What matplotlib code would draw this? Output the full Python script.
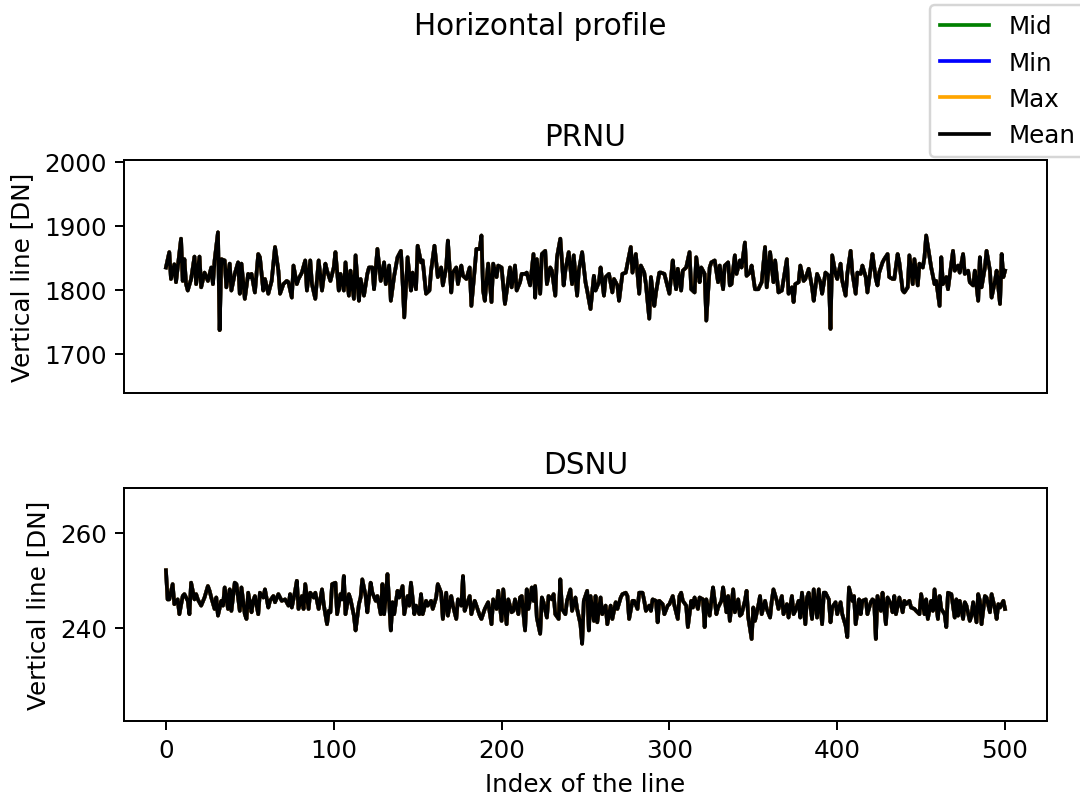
import matplotlib
matplotlib.use('Agg')
import matplotlib.pyplot as plt

# values (index of the line, DN)
prnu_idx = [0, 2, 3, 5, 6, 9, 10, 11, 12, 13, 15, 17, 18, 20, 21, 23, 25, 27, 28, 29, 31, 32, 33, 35, 36, 38, 39, 41, 43, 44,
            45, 47, 49, 50, 51, 53, 55, 56, 58, 59, 61, 63, 65, 67, 68, 70, 72, 73, 75, 76, 78, 79, 81, 83, 84, 86, 87, 89, 91, 93,
            95, 96, 98, 100, 101, 103, 104, 106, 107, 109, 110, 112, 113, 115, 116, 118, 120, 121, 123, 124, 126, 128, 130, 131, 133, 134, 136, 138, 140, 141,
            142, 144, 146, 147, 149, 150, 152, 153, 155, 157, 158, 160, 162, 164, 165, 167, 168, 170, 171, 173, 174, 176, 177, 179, 181, 182, 184, 185, 187, 188,
            189, 190, 192, 194, 195, 197, 198, 200, 202, 205, 206, 208, 209, 211, 212, 214, 215, 217, 219, 220, 221, 223, 224, 226, 227, 229, 230, 232, 233, 235,
            237, 238, 240, 242, 243, 245, 246, 248, 250, 251, 253, 255, 256, 258, 259, 261, 262, 264, 266, 267, 269, 270, 272, 274, 275, 277, 278, 280, 282, 283,
            285, 286, 288, 289, 291, 292, 294, 295, 297, 299, 300, 302, 303, 304, 305, 307, 308, 310, 312, 313, 315, 316, 318, 319, 321, 322, 324, 325, 327, 329,
            330, 332, 333, 335, 336, 337, 339, 340, 342, 343, 345, 346, 348, 349, 351, 353, 355, 357, 358, 360, 362, 363, 365, 367, 370, 371, 373, 374, 375, 377,
            378, 380, 381, 383, 385, 386, 388, 390, 391, 393, 395, 396, 397, 399, 400, 402, 403, 405, 406, 408, 409, 411, 412, 414, 415, 417, 418, 420, 421, 423,
            424, 425, 427, 428, 430, 431, 433, 434, 436, 437, 439, 440, 442, 443, 445, 446, 448, 449, 451, 452, 453, 455, 456, 458, 459, 461, 462, 463, 465, 466,
            468, 469, 470, 472, 473, 475, 476, 478, 479, 481, 482, 484, 485, 486, 488, 489, 491, 492, 494, 495, 497, 498, 499, 500]
prnu_val = [1835, 1859, 1817, 1840, 1812, 1880, 1814, 1848, 1809, 1799, 1817, 1852, 1809, 1852, 1804, 1827, 1814, 1835, 1809, 1846, 1890, 1737, 1848, 1846, 1804, 1841, 1799, 1825, 1843, 1794,
            1841, 1786, 1825, 1820, 1825, 1796, 1856, 1851, 1799, 1817, 1794, 1814, 1867, 1830, 1794, 1809, 1814, 1812, 1788, 1838, 1809, 1817, 1827, 1846, 1799, 1846, 1809, 1786, 1846, 1799,
            1841, 1830, 1814, 1835, 1859, 1799, 1825, 1799, 1843, 1791, 1830, 1786, 1854, 1783, 1817, 1791, 1825, 1835, 1835, 1801, 1864, 1814, 1843, 1809, 1838, 1783, 1822, 1851, 1861, 1814,
            1757, 1851, 1799, 1827, 1801, 1869, 1843, 1846, 1794, 1799, 1830, 1869, 1820, 1835, 1807, 1835, 1877, 1796, 1827, 1835, 1809, 1838, 1822, 1817, 1835, 1775, 1833, 1864, 1864, 1885,
            1799, 1783, 1841, 1781, 1841, 1820, 1838, 1835, 1778, 1835, 1804, 1838, 1799, 1812, 1825, 1825, 1827, 1807, 1856, 1788, 1848, 1794, 1856, 1861, 1809, 1835, 1830, 1791, 1851, 1880,
            1807, 1830, 1859, 1809, 1854, 1791, 1830, 1859, 1812, 1799, 1770, 1822, 1799, 1812, 1835, 1791, 1820, 1825, 1796, 1817, 1807, 1783, 1825, 1827, 1841, 1867, 1827, 1856, 1794, 1838,
            1827, 1809, 1755, 1820, 1775, 1796, 1827, 1827, 1825, 1804, 1794, 1846, 1820, 1801, 1833, 1799, 1830, 1835, 1859, 1801, 1796, 1851, 1812, 1835, 1825, 1752, 1835, 1843, 1846, 1812,
            1838, 1801, 1838, 1843, 1807, 1809, 1854, 1825, 1846, 1835, 1874, 1822, 1827, 1838, 1801, 1801, 1812, 1867, 1804, 1859, 1812, 1846, 1796, 1799, 1848, 1794, 1804, 1781, 1809, 1812,
            1838, 1814, 1817, 1833, 1804, 1783, 1825, 1812, 1794, 1827, 1822, 1739, 1854, 1825, 1817, 1841, 1814, 1791, 1825, 1861, 1827, 1794, 1827, 1825, 1838, 1820, 1796, 1835, 1856, 1817,
            1807, 1827, 1843, 1848, 1856, 1820, 1817, 1817, 1856, 1843, 1799, 1796, 1804, 1854, 1809, 1848, 1807, 1841, 1835, 1851, 1885, 1851, 1835, 1809, 1814, 1775, 1851, 1809, 1820, 1801,
            1841, 1861, 1830, 1838, 1827, 1856, 1825, 1830, 1812, 1807, 1830, 1783, 1851, 1804, 1835, 1861, 1830, 1788, 1814, 1830, 1778, 1856, 1820, 1830]

dsnu_idx = [0, 1, 2, 4, 5, 7, 8, 10, 11, 13, 14, 15, 17, 18, 19, 21, 23, 25, 26, 27, 29, 30, 31, 33, 34, 35, 37, 38, 39, 41,
            42, 44, 45, 47, 48, 49, 51, 52, 53, 55, 56, 58, 59, 61, 62, 64, 65, 67, 68, 69, 71, 73, 74, 75, 77, 78, 79, 81, 82, 83,
            85, 86, 88, 89, 91, 93, 94, 95, 96, 97, 98, 99, 101, 102, 104, 105, 106, 107, 109, 110, 112, 113, 115, 116, 117, 119, 120, 122, 123, 125,
            126, 128, 129, 130, 131, 132, 134, 135, 136, 138, 139, 141, 142, 144, 145, 146, 148, 149, 151, 152, 153, 155, 156, 158, 159, 161, 162, 164, 165, 167,
            168, 170, 171, 173, 174, 176, 177, 178, 179, 181, 182, 184, 185, 187, 188, 190, 191, 192, 194, 195, 197, 198, 200, 201, 203, 204, 206, 207, 208, 210,
            211, 212, 214, 215, 216, 218, 219, 220, 221, 223, 224, 225, 227, 228, 230, 231, 232, 234, 235, 236, 238, 239, 241, 242, 244, 245, 247, 248, 249, 251,
            252, 253, 255, 256, 257, 259, 260, 262, 263, 265, 266, 268, 269, 271, 272, 274, 275, 276, 278, 279, 281, 282, 284, 285, 286, 288, 289, 290, 292, 293,
            294, 296, 297, 299, 300, 302, 303, 305, 306, 307, 308, 310, 311, 313, 314, 315, 317, 318, 320, 321, 322, 324, 325, 326, 328, 329, 331, 332, 334, 335,
            336, 338, 339, 341, 342, 343, 345, 346, 347, 349, 350, 351, 353, 354, 355, 357, 358, 360, 361, 362, 364, 365, 367, 368, 370, 371, 373, 374, 375, 377,
            378, 379, 381, 382, 383, 385, 386, 388, 389, 391, 392, 393, 395, 396, 397, 399, 400, 402, 403, 405, 406, 407, 409, 410, 411, 413, 414, 415, 417, 418,
            420, 421, 422, 423, 424, 426, 427, 429, 430, 432, 433, 434, 435, 437, 439, 440, 441, 443, 444, 446, 447, 449, 450, 452, 453, 454, 456, 457, 458, 460,
            461, 462, 464, 465, 466, 468, 470, 471, 472, 473, 475, 476, 477, 479, 480, 481, 483, 484, 485, 486, 488, 489, 491, 492, 494, 495, 496, 497, 499, 500]
dsnu_val = [252.1, 246.0, 246.0, 249.2, 245.0, 246.0, 242.9, 246.7, 247.1, 245.7, 242.9, 249.5, 246.0, 247.1, 246.0, 244.7, 246.4, 248.8, 247.8, 246.4, 244.0, 246.4, 242.6, 245.7, 244.7, 248.5, 244.0, 248.1, 243.6, 249.5,
            249.2, 243.6, 248.5, 242.9, 241.9, 247.4, 243.3, 245.7, 246.7, 242.9, 247.4, 246.4, 248.1, 244.3, 245.7, 246.7, 245.4, 247.1, 246.4, 245.7, 246.0, 244.7, 247.1, 244.3, 247.8, 249.9, 244.0, 246.7, 244.0, 249.2,
            244.0, 247.4, 246.4, 247.4, 244.0, 248.1, 245.0, 242.9, 240.8, 243.6, 243.3, 249.2, 249.5, 242.9, 247.1, 246.0, 250.9, 242.9, 247.1, 246.0, 242.6, 239.5, 245.0, 246.4, 250.2, 246.7, 243.3, 249.5, 247.4, 245.7,
            246.7, 242.9, 249.2, 242.9, 246.7, 251.3, 239.5, 245.4, 242.9, 247.8, 246.4, 248.8, 242.9, 246.7, 244.7, 249.5, 242.9, 244.7, 242.9, 247.1, 242.9, 245.7, 244.7, 245.7, 244.0, 246.4, 249.2, 247.4, 241.9, 247.4,
            242.6, 246.7, 244.7, 241.9, 246.0, 244.7, 250.9, 243.6, 244.7, 246.7, 242.9, 245.7, 244.7, 242.6, 241.9, 244.0, 244.7, 245.4, 240.8, 246.0, 244.0, 247.8, 241.5, 248.1, 240.8, 246.0, 243.3, 243.6, 246.0, 242.9,
            246.4, 246.7, 239.5, 248.1, 244.0, 248.5, 245.7, 248.8, 242.2, 238.8, 246.4, 245.4, 242.2, 246.7, 246.0, 247.1, 242.9, 241.9, 250.2, 244.0, 242.9, 245.7, 248.1, 243.6, 246.4, 244.0, 240.8, 236.7, 245.7, 247.8,
            239.5, 246.7, 241.5, 246.7, 241.2, 246.4, 242.9, 244.7, 240.8, 244.7, 241.9, 245.4, 244.0, 246.4, 247.1, 247.4, 246.7, 241.9, 245.7, 245.7, 244.0, 247.4, 247.4, 245.7, 243.6, 244.7, 243.6, 246.0, 245.7, 241.2,
            245.7, 245.0, 242.9, 244.7, 245.0, 246.7, 244.7, 241.9, 246.7, 247.4, 245.7, 244.7, 240.2, 245.7, 244.3, 246.4, 244.0, 246.4, 246.0, 240.2, 246.0, 242.6, 245.7, 248.5, 242.9, 244.3, 245.7, 248.5, 243.3, 246.7,
            241.5, 248.1, 243.3, 246.0, 242.6, 242.9, 245.7, 247.8, 242.2, 237.7, 244.3, 241.5, 244.7, 246.7, 242.9, 245.7, 244.0, 242.2, 245.7, 248.1, 245.7, 244.0, 246.7, 242.9, 245.0, 242.2, 246.7, 242.9, 243.6, 245.7,
            242.2, 247.4, 240.8, 246.4, 247.4, 241.9, 248.1, 242.2, 248.1, 240.8, 247.4, 247.4, 246.0, 241.2, 244.3, 245.4, 242.9, 245.4, 242.9, 240.5, 238.1, 248.5, 245.7, 246.7, 240.8, 246.0, 242.9, 245.7, 246.0, 242.9,
            245.4, 246.0, 245.7, 237.7, 246.7, 243.6, 247.4, 240.8, 246.4, 245.0, 243.3, 246.7, 242.9, 246.4, 243.3, 245.7, 245.0, 245.7, 244.3, 244.0, 243.6, 242.9, 247.1, 242.9, 246.0, 241.9, 245.7, 243.6, 248.1, 241.9,
            246.7, 244.0, 242.9, 240.2, 247.4, 247.1, 242.2, 246.0, 242.6, 245.7, 241.9, 245.4, 244.7, 241.5, 242.6, 245.4, 241.2, 247.1, 245.7, 240.8, 246.7, 246.4, 243.3, 247.1, 244.0, 241.9, 245.0, 244.3, 245.7, 244.0]

fig, axes = plt.subplots(2, 1, sharex=True, figsize=(6.107, 4.525), dpi=177)
fig.subplots_adjust(left=0.1147, right=0.9686, top=0.799, bottom=0.0986, hspace=0.41)

for ax, idx, val, name in [(axes[0], prnu_idx, prnu_val, 'PRNU'), (axes[1], dsnu_idx, dsnu_val, 'DSNU')]:
    ax.plot(idx, val, c='green', label='Mid')
    ax.plot(idx, val, c='blue', label='Min')
    ax.plot(idx, val, c='orange', label='Max')
    ax.plot(idx, val, c='black', label='Mean')
    ax.set_title(name)
    ax.set_ylabel('Vertical line [DN]')

axes[0].set_ylim(1639, 2003)
axes[0].set_yticks([1700, 1800, 1900, 2000])
axes[0].tick_params(axis='x', bottom=False, labelbottom=False)
axes[1].set_ylim(220.5, 269.3)
axes[1].set_yticks([240, 260])
axes[1].set_xlabel('Index of the line')

handles, labels = axes[0].get_legend_handles_labels()
fig.legend(handles, labels, loc='upper right', bbox_to_anchor=(1.004, 0.993), borderaxespad=0)
fig.suptitle('Horizontal profile', y=0.985)

plt.savefig('out.png', dpi=177)
